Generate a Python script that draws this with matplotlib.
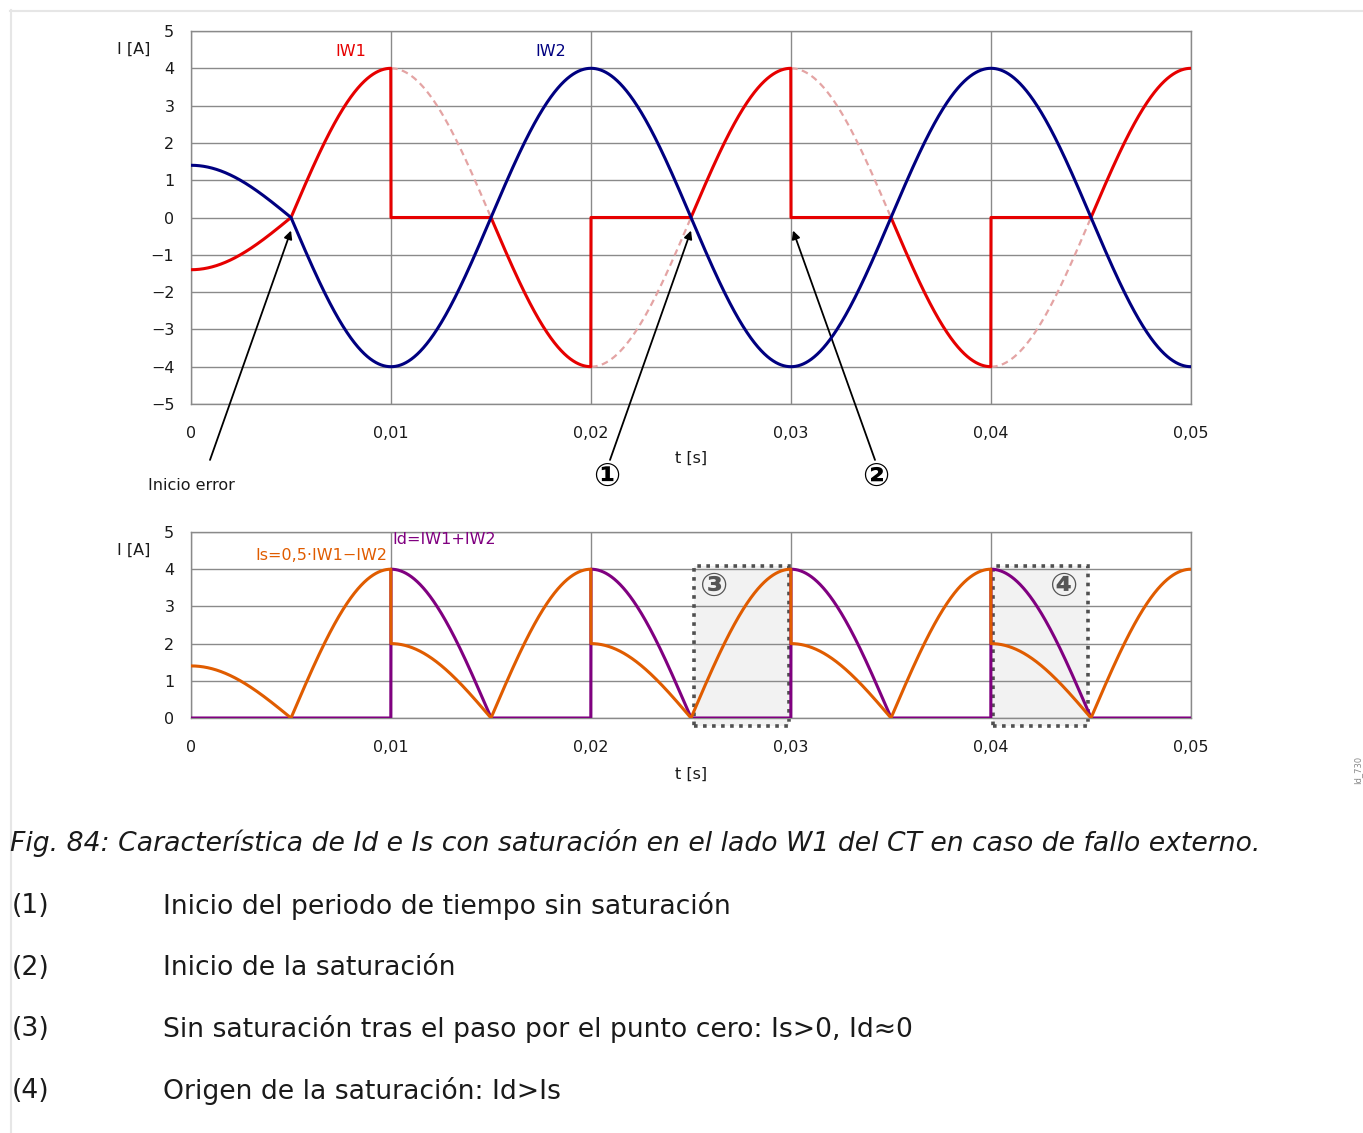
import numpy as np
import matplotlib
matplotlib.use('Agg')
import matplotlib.pyplot as plt
from matplotlib.patches import Rectangle
from matplotlib.lines import Line2D

W, H = 1363, 1133

# ---------------- data ----------------
freq_hz = 50
amp_prefault = 1.4          # IW2 amplitude before the fault
amp_fault = 4.0             # amplitude after fault inception
fault_start = 0.005         # s, "Inicio error"
sat_windows = [(0.01, 0.015), (0.02, 0.025), (0.03, 0.035), (0.04, 0.045)]
box_windows = [(0.02515, 0.0299), (0.0401, 0.04485)]
box_ylim = (-0.22, 4.09)
box_labels = ['③', '④']
t_ticks = [0, 0.01, 0.02, 0.03, 0.04, 0.05]
t_labels = ['0', '0,01', '0,02', '0,03', '0,04', '0,05']
y_ticks_top = list(range(-5, 6))
y_ticks_bot = list(range(0, 6))
arrow_tips = [0.005, 0.025, 0.0301]        # t of arrow tips (y = -0.35)
arrow_tails = [(0.00095, -6.5), (0.02095, -6.5), (0.0342, -6.5)]
caption_title = ('Fig. 84: Característica de Id e Is con saturación en el lado W1 '
                 'del CT en caso de fallo externo.')
caption_keys = ['(1)', '(2)', '(3)', '(4)']
caption_texts = ['Inicio del periodo de tiempo sin saturación',
                 'Inicio de la saturación',
                 'Sin saturación tras el paso por el punto cero: Is>0, Id≈0',
                 'Origen de la saturación: Id>Is']

# ---------------- signals ----------------
t = np.linspace(0, 0.05, 5001)
iw2 = np.where(t < fault_start, amp_prefault, amp_fault) * np.cos(2 * np.pi * freq_hz * t)
iw1_ideal = -iw2
sat = np.zeros_like(t, dtype=bool)
for a, b in sat_windows:
    sat |= (t >= a - 1e-12) & (t < b - 1e-12)
iw1 = np.where(sat, 0.0, iw1_ideal)
i_d = np.abs(iw1 + iw2)
i_s = 0.5 * np.abs(iw1 - iw2)

RED = '#e60000'
NAVY = '#000080'
PINK = '#e4a4a4'
ORANGE = '#e05c00'
PURPLE = '#800080'
GRID = '#8a8a8a'
TXT = '#1a1a1a'
FS = 11.5

fig = plt.figure(figsize=(W / 100, H / 100), dpi=100)

def fx(x):
    return x / W

def fy(y):
    return 1 - y / H

ax1 = fig.add_axes([fx(191), fy(404), 1000 / W, 373 / H])
ax2 = fig.add_axes([fx(191), fy(718), 1000 / W, 186 / H])

for ax, yt in ((ax1, y_ticks_top), (ax2, y_ticks_bot)):
    ax.set_xlim(0, 0.05)
    ax.set_ylim(yt[0], yt[-1])
    ax.set_xticks(t_ticks)
    ax.set_xticklabels(t_labels)
    ax.set_yticks(yt)
    ax.set_axisbelow(True)
    ax.grid(True, color=GRID, lw=1.0)
    ax.tick_params(length=0, labelsize=FS, colors=TXT)
    ax.tick_params(axis='x', pad=15.5)
    ax.tick_params(axis='y', pad=12)
    for s in ax.spines.values():
        s.set_color(GRID)
        s.set_linewidth(1.0)

# ---- top chart ----
for a, b in sat_windows:
    m = (t >= a) & (t <= b)
    ax1.plot(t[m], iw1_ideal[m], color=PINK, lw=1.6, ls=(0, (3, 2)), zorder=2)
ax1.plot(t, iw1, color=RED, lw=2.2, zorder=3)
ax1.plot(t, iw2, color=NAVY, lw=2.2, zorder=4)

for tip, tail in zip(arrow_tips, arrow_tails):
    ax1.annotate('', xy=(tip, -0.35), xytext=tail, annotation_clip=False,
                 arrowprops=dict(arrowstyle='-|>', lw=1.3, color='black',
                                 mutation_scale=12, shrinkA=0, shrinkB=0))

# ---- bottom chart ----
for (a, b), lab in zip(box_windows, box_labels):
    ax2.add_patch(Rectangle((a, box_ylim[0]), b - a, box_ylim[1] - box_ylim[0],
                            facecolor='#f2f2f2', edgecolor='none', zorder=0.3,
                            clip_on=False))
    ax2.add_patch(Rectangle((a, box_ylim[0]), b - a, box_ylim[1] - box_ylim[0],
                            fill=False, edgecolor='#505050', lw=2.6,
                            ls=(0, (1, 1.5)), zorder=1.5, clip_on=False))
ax2.plot(t, i_d, color=PURPLE, lw=2.2, zorder=3)
ax2.plot(t, i_s, color=ORANGE, lw=2.2, zorder=4)

# ---------------- texts ----------------
circ = ['DejaVu Sans', 'Noto Sans CJK JP']
fig.text(fx(150), fy(49), 'I [A]', ha='right', va='center', fontsize=FS, color=TXT)
fig.text(fx(150), fy(550), 'I [A]', ha='right', va='center', fontsize=FS, color=TXT)
fig.text(fx(691), fy(458), 't [s]', ha='center', va='center', fontsize=FS, color=TXT)
fig.text(fx(691), fy(774), 't [s]', ha='center', va='center', fontsize=FS, color=TXT)
fig.text(fx(191), fy(485), 'Inicio error', ha='center', va='center', fontsize=FS, color=TXT)
fig.text(fx(351), fy(52), 'IW1', ha='center', va='center', fontsize=FS, color=RED)
fig.text(fx(551), fy(52), 'IW2', ha='center', va='center', fontsize=FS, color=NAVY)
fig.text(fx(387), fy(556), 'Is=0,5·IW1−IW2', ha='right', va='center', fontsize=FS, color=ORANGE)
fig.text(fx(392), fy(540), 'Id=IW1+IW2', ha='left', va='center', fontsize=FS, color=PURPLE)
fig.text(fx(607), fy(477), '①', ha='center', va='center', fontsize=23,
         fontweight='bold', family=circ, color='black')
fig.text(fx(876), fy(477), '②', ha='center', va='center', fontsize=23,
         fontweight='bold', family=circ, color='black')
fig.text(fx(713), fy(586), box_labels[0], ha='center', va='center', fontsize=24,
         fontweight='bold', family=circ, color='#555555')
fig.text(fx(1063), fy(586), box_labels[1], ha='center', va='center', fontsize=24,
         fontweight='bold', family=circ, color='#555555')
fig.text(fx(1358), fy(770), 'Id_730', ha='center', va='center', fontsize=6,
         rotation=90, color='#888888')

CFS = 19.2
fig.text(fx(10), fy(843), caption_title, ha='left', va='center', fontsize=CFS,
         style='italic', color=TXT)
for i, (k, s) in enumerate(zip(caption_keys, caption_texts)):
    y = 906 + i * 61.7
    fig.text(fx(12), fy(y), k, ha='left', va='center', fontsize=CFS, color=TXT)
    fig.text(fx(163), fy(y), s, ha='left', va='center', fontsize=CFS, color=TXT)

# page border
fig.add_artist(Line2D([fx(10), 1], [fy(10.5), fy(10.5)], color='#e6e6e6', lw=1.5,
                      transform=fig.transFigure))
fig.add_artist(Line2D([fx(10.5), fx(10.5)], [fy(10), 0], color='#e6e6e6', lw=1.5,
                      transform=fig.transFigure))

fig.savefig('out.png', dpi=100)
